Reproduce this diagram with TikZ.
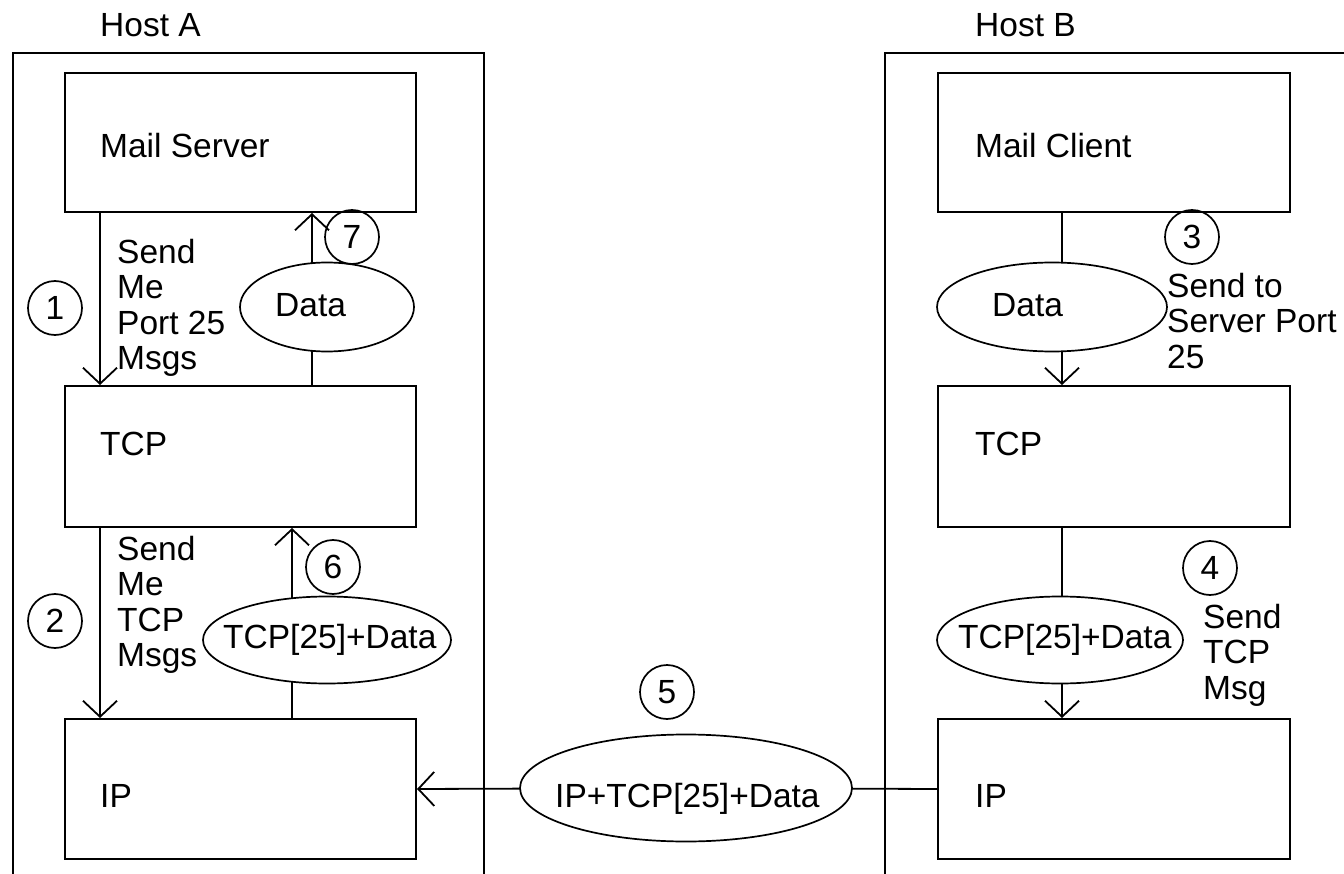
\documentclass[tikz,border=0pt]{standalone}
\usepackage{fontspec}
\setmainfont{Liberation Sans}
\usetikzlibrary{arrows.meta,shapes.geometric,backgrounds}
\begin{document}
\begin{tikzpicture}[x=1pt,y=-1pt,
  font=\fontsize{33.5}{35.5}\selectfont,
  hostbox/.style={draw,line width=2pt,inner sep=0,anchor=north west},
  layerbox/.style={draw,line width=2pt,inner sep=0,anchor=north west,minimum width=351pt},
  msgell/.style={draw,fill=white,ellipse,line width=1.7pt,inner sep=0},
  numcirc/.style={draw,circle,line width=1.7pt,minimum size=54pt,inner sep=0},
  txt/.style={anchor=base west,inner sep=0},
  note/.style={anchor=north west,inner sep=0,align=left},
  conn/.style={line width=1.8pt},
  arr/.style={conn,-{Straight Barb[length=16pt,width=34pt]}}]
\useasboundingbox (0,0) rectangle (1344,874);
% hosts
\node[hostbox,minimum width=471pt,minimum height=840pt] (hostA) at (12,52) {};
\node[hostbox,minimum width=490pt,minimum height=840pt] (hostB) at (884,52) {};
\node[txt] (hAt) at (100,37) {Host A};
\node[txt] (hBt) at (975,37) {Host B};
% layer boxes
\node[layerbox,minimum height=139pt] (msA) at (64,72) {};
\node[layerbox,minimum height=141pt] (tcpA) at (64,385) {};
\node[layerbox,minimum height=140pt] (ipA) at (64,718) {};
\node[layerbox,minimum height=139pt,minimum width=352pt] (msB) at (937,72) {};
\node[layerbox,minimum height=141pt,minimum width=352pt] (tcpB) at (937,385) {};
\node[layerbox,minimum height=140pt,minimum width=352pt] (ipB) at (937,718) {};
\node[txt] (msAt) at (100,158) {Mail Server};
\node[txt] (tcpAt) at (100,455) {TCP};
\node[txt] (ipAt) at (100,807) {IP};
\node[txt] (msBt) at (975,158) {Mail Client};
\node[txt] (tcpBt) at (975,455) {TCP};
\node[txt] (ipBt) at (975,807) {IP};
% message ellipses
\node[msgell,minimum width=174pt,minimum height=89pt] (dA) at (327,307) {};
\node[msgell,minimum width=248pt,minimum height=87pt] (tdA) at (327,640) {};
\node[msgell,minimum width=332pt,minimum height=107pt] (ipd) at (686,788) {};
\node[msgell,minimum width=230pt,minimum height=89pt] (dB) at (1052,307) {};
\node[msgell,minimum width=246pt,minimum height=87pt] (tdB) at (1060,640) {};
\node[txt] (dAt) at (275,317) {Data};
\node[txt] (tdAt) at (223,648) {TCP[25]+Data};
\node[txt] (ipdt) at (555,807) {IP+TCP[25]+Data};
\node[txt] (dBt) at (992,317) {Data};
\node[txt] (tdBt) at (958,648) {TCP[25]+Data};
% step numbers
\node[numcirc] (c1) at (55,308) {1};
\node[numcirc] (c2) at (55,621) {2};
\node[numcirc] (c3) at (1192,237) {3};
\node[numcirc] (c4) at (1210,568) {4};
\node[numcirc] (c5) at (667,692) {5};
\node[numcirc] (c6) at (333,567) {6};
\node[numcirc] (c7) at (352,237) {7};
% notes
\node[note] (n1) at (117,239) {Send\\Me\\Port 25\\Msgs};
\node[note] (n2) at (117,536) {Send\\Me\\TCP\\Msgs};
\node[note] (n3) at (1167,273) {Send to\\Server Port\\25};
\node[note] (n4) at (1203,604) {Send\\TCP\\Msg};
% connectors
\begin{pgfonlayer}{background}
\draw[arr] ([xshift=36pt]msA.south west) -- ([xshift=36pt]tcpA.north west);
\draw[arr] ([xshift=36pt]tcpA.south west) -- ([xshift=36pt]ipA.north west);
\draw[arr] ([xshift=-15pt]dA.center) -- ([xshift=-15pt]dA.center |- msA.south);
\draw[conn] ([xshift=-15pt]dA.center) -- ([xshift=-15pt]dA.center |- tcpA.north);
\draw[arr] ([xshift=-35pt]tdA.center) -- ([xshift=-35pt]tdA.center |- tcpA.south);
\draw[conn] ([xshift=-35pt]tdA.center) -- ([xshift=-35pt]tdA.center |- ipA.north);
\draw[arr] (ipd.center) -- (ipA.east);
\draw[conn] (ipd.center) -- (ipB.west);
\draw[conn] ([xshift=125pt]msB.south west) -- ([xshift=125pt]msB.south west |- dB.center);
\draw[arr] ([xshift=125pt]tcpB.north west |- dB.center) -- ([xshift=125pt]tcpB.north west);
\draw[conn] ([xshift=125pt]tcpB.south west) -- ([xshift=125pt]tcpB.south west |- tdB.center);
\draw[arr] ([xshift=125pt]ipB.north west |- tdB.center) -- ([xshift=125pt]ipB.north west);
\end{pgfonlayer}
\end{tikzpicture}
\end{document}
